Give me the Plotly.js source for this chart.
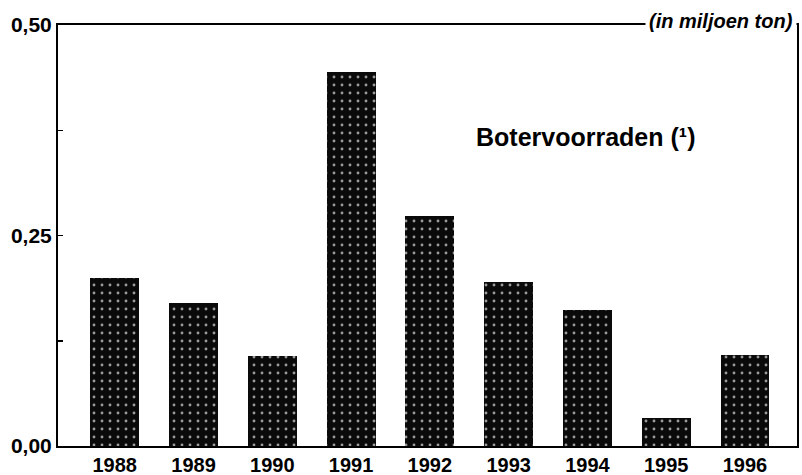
<!DOCTYPE html>
<html>
<head>
<meta charset="utf-8">
<script src="https://cdn.plot.ly/plotly-3.0.1.min.js"></script>
<style>
  body { margin: 0; background: #fff; }
  #plotButter { width: 802px; height: 475px; }
</style>
</head>
<body>
<div id="plotButter"></div>
<script>
// Butter stocks, million tonnes
var years = [1988, 1989, 1990, 1991, 1992, 1993, 1994, 1995, 1996];
var stocks = [0.20, 0.17, 0.107, 0.444, 0.273, 0.195, 0.162, 0.033, 0.108];
var tickVals = [0, 0.125, 0.25, 0.375, 0.5];
var tickText = ['0,00', '', '0,25', '', '0,50'];

function drawButter(plotDiv) {
  var bars = {
    type: 'bar',
    x: years,
    y: stocks,
    width: 0.62,
    marker: {
      color: '#0a0a0a',
      line: { width: 0 },
      pattern: {
        shape: '.',
        bgcolor: '#0a0a0a',
        fgcolor: '#9a9a9a',
        size: 8,
        solidity: 0.1
      }
    },
    hoverinfo: 'x+y'
  };

  var layout = {
    width: 802,
    height: 475,
    showlegend: false,
    paper_bgcolor: 'white',
    plot_bgcolor: 'white',
    font: { family: 'Liberation Sans, Arial, sans-serif', color: '#000' },
    margin: { l: 58, r: 5, t: 25, b: 29 },
    bargap: 0,
    xaxis: {
      range: [1987.28, 1996.66],
      tickvals: years,
      ticks: '',
      showgrid: false,
      zeroline: false,
      showline: true,
      linecolor: '#000',
      linewidth: 2,
      mirror: true,
      tickfont: { size: 20, weight: 'bold' }
    },
    yaxis: {
      range: [0, 0.5],
      tickvals: tickVals,
      ticktext: tickText,
      ticks: 'inside',
      ticklen: 5,
      tickwidth: 1.5,
      tickcolor: '#000',
      showgrid: false,
      zeroline: false,
      showline: true,
      linecolor: '#000',
      linewidth: 2,
      mirror: true,
      tickfont: { size: 21, weight: 'bold' }
    },
    annotations: [
      {
        xref: 'paper', yref: 'paper',
        x: 1.0, y: 1.0,
        xanchor: 'right', yanchor: 'middle',
        yshift: 4,
        text: '<b><i>(in miljoen ton)</i></b>',
        showarrow: false,
        bgcolor: 'white',
        borderpad: 3,
        font: { size: 20, color: '#000' }
      },
      {
        xref: 'paper', yref: 'paper',
        x: 0.563, y: 0.735,
        xanchor: 'left', yanchor: 'middle',
        text: '<b>Botervoorraden (¹)</b>',
        showarrow: false,
        font: { size: 25, color: '#000' }
      }
    ]
  };

  Plotly.newPlot(plotDiv, [bars], layout, { staticPlot: true });
}

drawButter(document.getElementById('plotButter'));
</script>
</body>
</html>
